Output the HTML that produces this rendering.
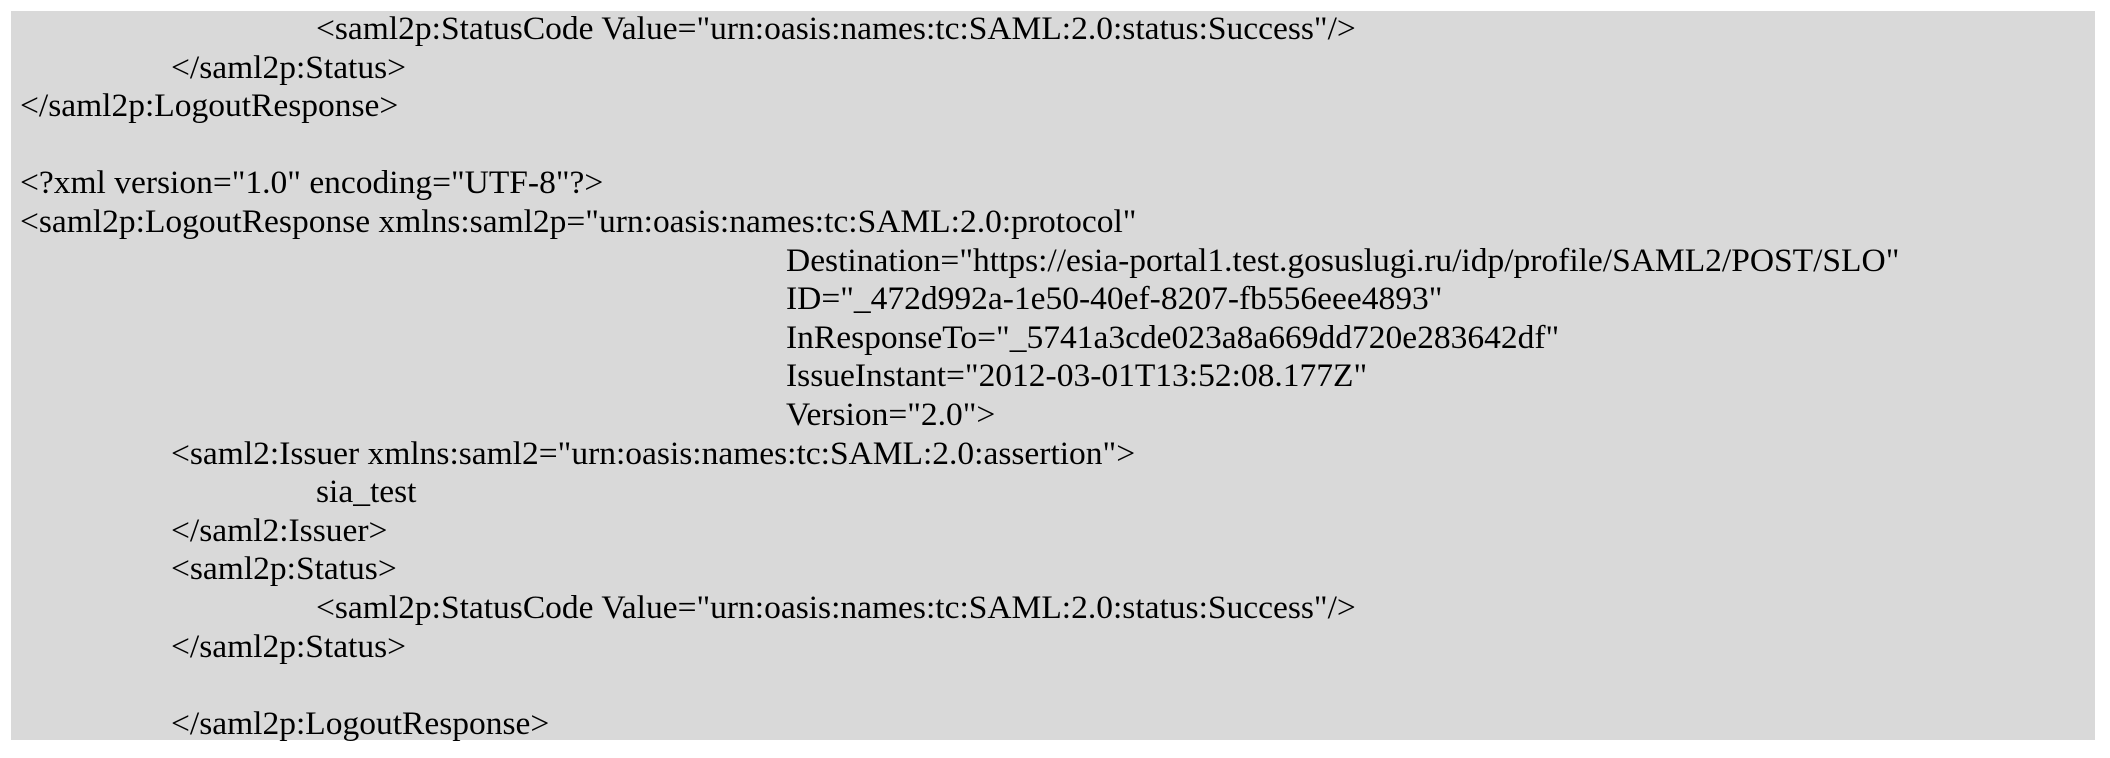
<!DOCTYPE html>
<html><head><meta charset="utf-8"><style>
html,body{margin:0;padding:0;background:#fff;width:2110px;height:758px;overflow:hidden}
#box{position:absolute;left:11px;top:11px;width:2084px;height:729px;background:#d9d9d9}
.l{position:absolute;left:0;height:38.6px;line-height:38.6px;font-family:"Liberation Serif",serif;font-size:33px;color:#000;white-space:pre;transform:scaleX(1.015);transform-origin:0 50%}
</style></head><body>
<div id="box"></div>
<div class="l" style="top:10px;left:316px">&lt;saml2p:StatusCode Value="urn:oasis:names:tc:SAML:2.0:status:Success"/&gt;</div>
<div class="l" style="top:48.6px;left:171px">&lt;/saml2p:Status&gt;</div>
<div class="l" style="top:87.2px;left:20px">&lt;/saml2p:LogoutResponse&gt;</div>
<div class="l" style="top:164.4px;left:20px">&lt;?xml version="1.0" encoding="UTF-8"?&gt;</div>
<div class="l" style="top:203px;left:20px">&lt;saml2p:LogoutResponse xmlns:saml2p="urn:oasis:names:tc:SAML:2.0:protocol"</div>
<div class="l" style="top:241.6px;left:786px">Destination="https://esia-portal1.test.gosuslugi.ru/idp/profile/SAML2/POST/SLO"</div>
<div class="l" style="top:280.2px;left:786px">ID="_472d992a-1e50-40ef-8207-fb556eee4893"</div>
<div class="l" style="top:318.8px;left:786px">InResponseTo="_5741a3cde023a8a669dd720e283642df"</div>
<div class="l" style="top:357.4px;left:786px">IssueInstant="2012-03-01T13:52:08.177Z"</div>
<div class="l" style="top:396px;left:786px">Version="2.0"&gt;</div>
<div class="l" style="top:434.6px;left:171px">&lt;saml2:Issuer xmlns:saml2="urn:oasis:names:tc:SAML:2.0:assertion"&gt;</div>
<div class="l" style="top:473.2px;left:316px">sia_test</div>
<div class="l" style="top:511.8px;left:171px">&lt;/saml2:Issuer&gt;</div>
<div class="l" style="top:550.4px;left:171px">&lt;saml2p:Status&gt;</div>
<div class="l" style="top:589px;left:316px">&lt;saml2p:StatusCode Value="urn:oasis:names:tc:SAML:2.0:status:Success"/&gt;</div>
<div class="l" style="top:627.6px;left:171px">&lt;/saml2p:Status&gt;</div>
<div class="l" style="top:704.8px;left:171px">&lt;/saml2p:LogoutResponse&gt;</div>
</body></html>
